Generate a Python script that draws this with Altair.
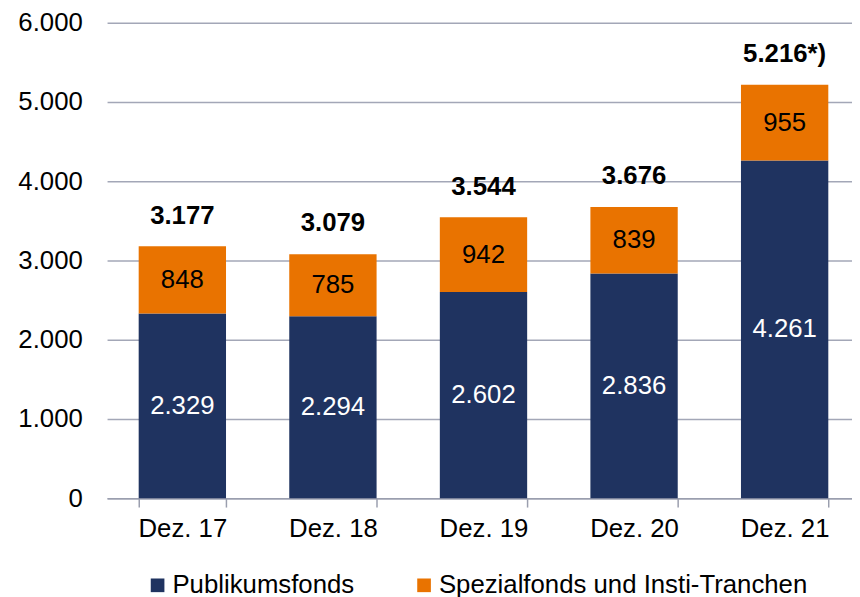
import altair as alt
import pandas as pd

months = ["Dez. 17", "Dez. 18", "Dez. 19", "Dez. 20", "Dez. 21"]
publikum = [2329, 2294, 2602, 2836, 4261]
spezial = [848, 785, 942, 839, 955]
totals = [3177, 3079, 3544, 3676, 5216]
total_labels = ["3.177", "3.079", "3.544", "3.676", "5.216*)"]
series = ["Publikumsfonds", "Spezialfonds und Insti-Tranchen"]
colors = ["#1F3360", "#E97300"]
y_ticks = [0, 1000, 2000, 3000, 4000, 5000, 6000]


def de(n):
    return f"{n:,}".replace(",", ".")


rows = []
for i, m in enumerate(months):
    rows.append({"month": m, "series": series[0], "value": publikum[i], "label": de(publikum[i]), "idx": 0})
    rows.append({"month": m, "series": series[1], "value": spezial[i], "label": de(spezial[i]), "idx": 1})
df = pd.DataFrame(rows)
tot = pd.DataFrame({"month": months, "total": totals, "label": total_labels})

FONT = "Liberation Sans"
FS = 26

x_scale = alt.Scale(domain=months, paddingInner=0.42, paddingOuter=0.21, range=[0, 760])
y_scale = alt.Scale(domain=[0, 6000], nice=False)

x_enc = alt.X("month:N", sort=months, title=None, scale=x_scale)

bars = alt.Chart(df).mark_bar().encode(
    x=x_enc,
    y=alt.Y("value:Q", stack="zero", scale=y_scale, title=None,
            axis=alt.Axis(values=y_ticks,
                          labelExpr="replace(format(datum.value, ','), ',', '.')")),
    color=alt.Color("series:N", scale=alt.Scale(domain=series, range=colors), sort=series,
                    legend=alt.Legend(title=None, orient="none", legendX=38, legendY=555,
                                      direction="horizontal", symbolType="square",
                                      symbolSize=190, symbolStrokeWidth=0, symbolOpacity=1,
                                      labelFontSize=FS, labelFont=FONT, labelColor="#000000",
                                      labelLimit=0, labelOffset=2, columnPadding=57, padding=0)),
    order=alt.Order("idx:Q"),
)

seg_text = alt.Chart(df).transform_stack(
    stack="value", groupby=["month"], as_=["v0", "v1"], sort=[alt.SortField("idx")]
).transform_calculate(
    mid="(datum.v0 + datum.v1) / 2"
).mark_text(font=FONT, fontSize=FS).encode(
    x=x_enc,
    y=alt.Y("mid:Q", scale=y_scale, title=None),
    text="label:N",
    color=alt.Color("series:N", scale=alt.Scale(domain=series, range=["#FFFFFF", "#000000"]), legend=None),
)

tot_text = alt.Chart(tot).mark_text(font=FONT, fontSize=FS, fontWeight="bold", baseline="bottom", dy=-18,
                                     color="#000000").encode(
    x=x_enc,
    y=alt.Y("total:Q", scale=y_scale, title=None),
    text="label:N",
)

chart = alt.layer(bars, seg_text, tot_text).resolve_scale(color="independent").properties(
    width=752, height=480,
    autosize=alt.AutoSizeParams(type="none"),
    padding={"left": 100, "top": 12, "right": 0, "bottom": 97},
    background="#FFFFFF",
).configure_view(stroke=None).configure_axisX(
    labelAngle=0, labelFontSize=FS, labelFont=FONT, labelColor="#000000",
    labelPadding=9, tickBand="extent", tickSize=9, tickColor="#9A9EAE",
    tickWidth=1.5, domainColor="#9A9EAE", domainWidth=1.5, grid=False,
).configure_axisY(
    labelFontSize=FS, labelFont=FONT, labelColor="#000000",
    labelPadding=25, ticks=False, domain=False,
    grid=True, gridColor="#A3A7B7", gridWidth=1.5,
)

chart.save("out.html", embed_options={"renderer": "svg", "actions": False})
